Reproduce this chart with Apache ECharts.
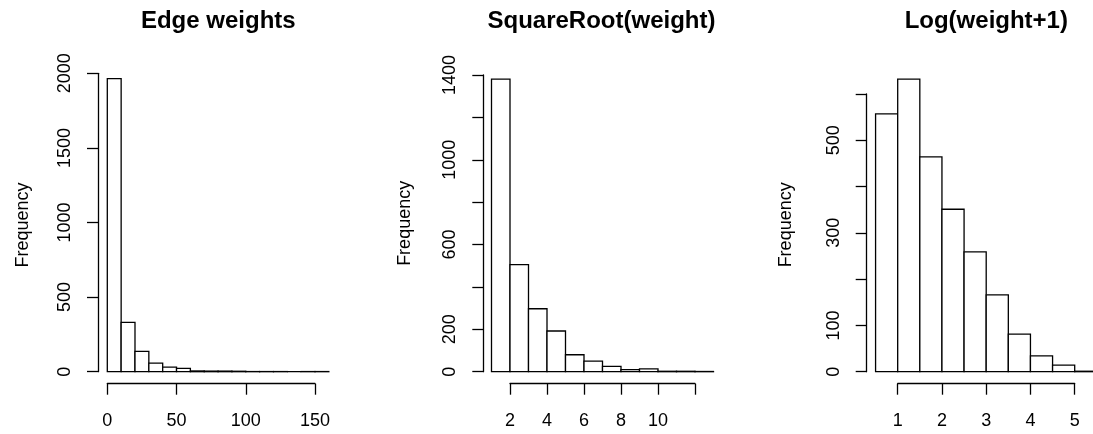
<!DOCTYPE html>
<html>
  <head>
    <meta charset="utf-8" />
    <script src="https://cdn.jsdelivr.net/npm/echarts@6/dist/echarts.min.js"></script>
  </head>
  <body style="margin:0;background:#fff">
    <div id="main" style="width:1093px;height:434px;"></div>
    <script type="text/javascript">
      var myChart = echarts.init(document.getElementById('main'));

      // histogram bin edges and counts
      const edgeBins = [0, 10, 20, 30, 40, 50, 60, 70, 80, 90, 100, 110, 120, 130, 140, 150, 160];
      const edgeCounts = [1964, 330, 136, 58, 31, 22, 5, 4, 4, 3, 1, 1, 1, 0, 1, 1];
      const sqrtBins = [1, 2, 3, 4, 5, 6, 7, 8, 9, 10, 11, 12, 13];
      const sqrtCounts = [1381, 505, 297, 192, 80, 50, 25, 10, 13, 2, 2, 1];
      const logBins = [0.5, 1, 1.5, 2, 2.5, 3, 3.5, 4, 4.5, 5, 5.5];
      const logCounts = [557, 632, 464, 351, 259, 166, 81, 34, 14, 1];

      const titles = ['Edge weights', 'SquareRoot(weight)', 'Log(weight+1)'];
      // labels R kept (others are ticks without text)
      const edgeYLabels = [0, 500, 1000, 1500, 2000];
      const sqrtYLabels = [0, 200, 600, 1000, 1400];
      const logYLabels = [0, 100, 300, 500];
      const sqrtXLabels = [2, 4, 6, 8, 10];

      const font = 'Liberation Sans, Arial, sans-serif';

      function binData(bins, counts) {
        return counts.map((c, i) => [bins[i], bins[i + 1], c]);
      }

      function histItem(params, api) {
        var p0 = api.coord([api.value(0), api.value(2)]);
        var p1 = api.coord([api.value(1), 0]);
        return {
          type: 'rect',
          shape: { x: p0[0], y: p0[1], width: p1[0] - p0[0], height: p1[1] - p0[1] },
          style: { fill: '#fff', stroke: '#000', lineWidth: 1.3 }
        };
      }

      function pick(list) {
        return function (v) { return list.indexOf(v) >= 0 ? String(v) : ''; };
      }

      function xAxisOf(i, min, max, interval, fmt) {
        return {
          type: 'value', gridIndex: i, min: min, max: max, interval: interval,
          offset: 12,
          axisLine: { show: true, onZero: false, lineStyle: { color: '#000', width: 1.3 } },
          axisTick: { show: true, length: 11, lineStyle: { color: '#000', width: 1.3 } },
          axisLabel: { show: true, margin: 28, color: '#000', fontSize: 18, fontFamily: font, formatter: fmt || '{value}', showMinLabel: true, showMaxLabel: true },
          splitLine: { show: false }
        };
      }

      function yAxisOf(i, max, interval, offset, labels, gap, pad) {
        return {
          type: 'value', gridIndex: i, min: 0, max: max, interval: interval,
          offset: offset,
          name: 'Frequency', nameLocation: 'middle', nameGap: gap,
          nameTextStyle: { color: '#000', fontSize: 18, fontFamily: font, padding: pad },
          axisLine: { show: true, onZero: false, lineStyle: { color: '#000', width: 1.3 } },
          axisTick: { show: true, length: 11, lineStyle: { color: '#000', width: 1.3 } },
          axisLabel: { show: true, rotate: 90, margin: 24, color: '#000', fontSize: 18, fontFamily: font, formatter: pick(labels), showMinLabel: true, showMaxLabel: true },
          splitLine: { show: false }
        };
      }

      option = {
        animation: false,
        backgroundColor: '#fff',
        grid: [
          { left: 107.3, width: 207.7, top: 73.3, height: 298.4, outerBoundsMode: 'none' },
          { left: 510, width: 185, top: 75, height: 296.7, outerBoundsMode: 'none' },
          { left: 897.7, width: 177, top: 94, height: 277.7, outerBoundsMode: 'none' }
        ],
        xAxis: [
          xAxisOf(0, 0, 150, 50),
          xAxisOf(1, 2, 12, 2, pick(sqrtXLabels)),
          xAxisOf(2, 1, 5, 1)
        ],
        yAxis: [
          yAxisOf(0, 2000, 500, 9.3, edgeYLabels, 66, [0, 5, 0, 0]),
          yAxisOf(1, 1400, 200, 26.7, sqrtYLabels, 69, [0, 0, 0, 0]),
          yAxisOf(2, 600, 100, 31, logYLabels, 72, [0, 0, 0, 16])
        ],
        graphic: [
          { type: 'text', x: 218.3, y: 21, style: { text: titles[0], font: 'bold 24px ' + font, fill: '#000', align: 'center', verticalAlign: 'middle' } },
          { type: 'text', x: 601.5, y: 21, style: { text: titles[1], font: 'bold 24px ' + font, fill: '#000', align: 'center', verticalAlign: 'middle' } },
          { type: 'text', x: 986.3, y: 21, style: { text: titles[2], font: 'bold 24px ' + font, fill: '#000', align: 'center', verticalAlign: 'middle' } }
        ],
        series: [
          { type: 'custom', xAxisIndex: 0, yAxisIndex: 0, clip: false, renderItem: histItem, encode: { x: [0, 1], y: 2 }, data: binData(edgeBins, edgeCounts) },
          { type: 'custom', xAxisIndex: 1, yAxisIndex: 1, clip: false, renderItem: histItem, encode: { x: [0, 1], y: 2 }, data: binData(sqrtBins, sqrtCounts) },
          { type: 'custom', xAxisIndex: 2, yAxisIndex: 2, clip: false, renderItem: histItem, encode: { x: [0, 1], y: 2 }, data: binData(logBins, logCounts) }
        ]
      };

      myChart.setOption(option);
    </script>
  </body>
</html>
